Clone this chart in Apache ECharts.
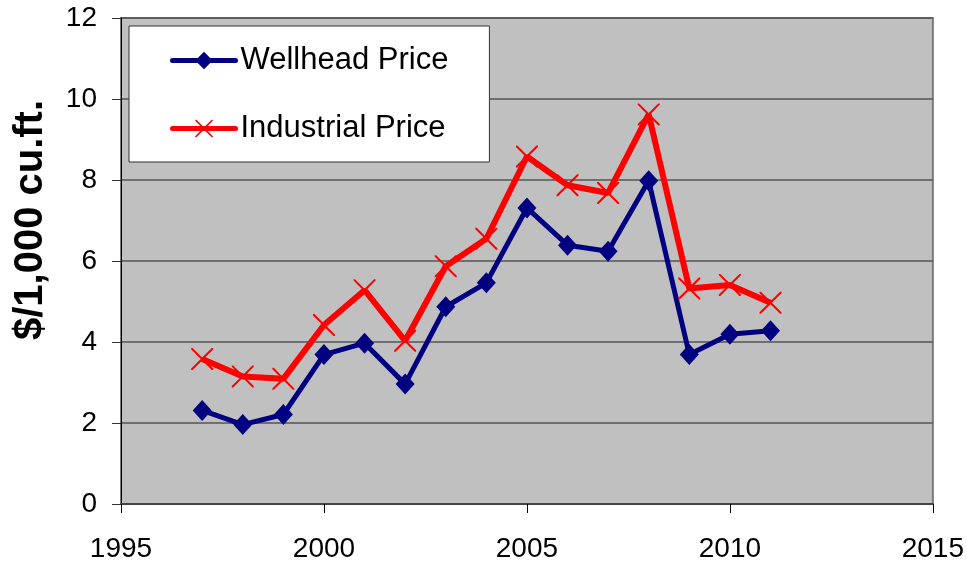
<!DOCTYPE html>
<html>
<head>
<meta charset="utf-8">
<script src="https://cdn.jsdelivr.net/npm/echarts@6/dist/echarts.min.js"></script>
<style>
html,body{margin:0;padding:0;background:#fff;}
#chart{width:967px;height:563px;}
</style>
</head>
<body>
<div id="chart"></div>
<script>
// values
var years = [1997, 1998, 1999, 2000, 2001, 2002, 2003, 2004, 2005, 2006, 2007, 2008, 2009, 2010, 2011];
var wellhead = [2.31, 1.96, 2.21, 3.69, 3.97, 2.96, 4.87, 5.46, 7.31, 6.39, 6.24, 7.98, 3.69, 4.19, 4.28];
var industrial = [3.58, 3.15, 3.09, 4.42, 5.28, 4.03, 5.87, 6.55, 8.58, 7.87, 7.68, 9.62, 5.32, 5.41, 4.97];
var seriesNames = ['Wellhead Price', 'Industrial Price'];
var yTitle = '$/1,000 cu.ft.';

var FONT = '"Liberation Sans", Arial, sans-serif';
// thin X cross as a filled outline
var crossPath = 'path://M0,0L1.3,0L10,8.7L18.7,0L20,0L20,1.3L11.3,10L20,18.7L20,20L18.7,20L10,11.3L1.3,20L0,20L0,18.7L8.7,10L0,1.3Z';

function pairs(xs, ys){
	var out = [];
	for (var i = 0; i < xs.length; i++) {
		out.push([xs[i], ys[i]]);
	}
	return out;
}

var chart = echarts.init(document.getElementById('chart'), null, {renderer: 'canvas'});
var option = {
	backgroundColor: '#ffffff',
	animation: false,
	textStyle: {fontFamily: FONT},
	grid: {
		left: 121, right: 32, top: 18, bottom: 57,
		show: true,
		backgroundColor: '#c0c0c0',
		borderColor: '#7a7a7a',
		borderWidth: 2
	},
	legend: {
		orient: 'vertical',
		left: 129, top: 26,
		padding: [19, 41, 18, 41],
		backgroundColor: '#ffffff',
		borderColor: '#333333',
		borderWidth: 1,
		itemWidth: 63,
		itemHeight: 22,
		itemGap: 37,
		lineStyle: {width: 5, cap: 'round'},
		textStyle: {fontSize: 31, color: '#000', fontFamily: FONT, lineHeight: 30},
		data: seriesNames
	},
	xAxis: {
		type: 'value',
		min: 1995, max: 2015, interval: 5,
		axisLine: {show: true, onZero: false, lineStyle: {color: '#444', width: 2}},
		axisTick: {show: true, inside: false, length: 9, lineStyle: {color: '#000', width: 1}},
		axisLabel: {fontSize: 28, color: '#000', margin: 31, fontFamily: FONT,
			formatter: function(v){ return String(v); }},
		splitLine: {show: false}
	},
	yAxis: {
		type: 'value',
		min: 0, max: 12, interval: 2,
		axisLine: {show: true, onZero: false, lineStyle: {color: '#000', width: 1}},
		axisTick: {show: true, inside: false, length: 9, lineStyle: {color: '#333', width: 1}},
		axisLabel: {fontSize: 28, color: '#000', margin: 24, fontFamily: FONT},
		splitLine: {show: true, lineStyle: {color: '#555555', width: 1.5}}
	},
	graphic: [{
		type: 'text',
		x: 31, y: 220,
		rotation: Math.PI / 2,
		style: {
			text: yTitle,
			font: 'bold 40px ' + FONT,
			fill: '#000',
			align: 'center',
			verticalAlign: 'middle'
		}
	}],
	series: [
		{
			name: seriesNames[0],
			type: 'line',
			data: pairs(years, wellhead),
			symbol: 'diamond',
			symbolSize: [19, 21],
			lineStyle: {color: '#000080', width: 5},
			itemStyle: {color: '#000080'},
			z: 2
		},
		{
			name: seriesNames[1],
			type: 'line',
			data: pairs(years, industrial),
			symbol: crossPath,
			symbolSize: 22,
			lineStyle: {color: '#ff0000', width: 6},
			itemStyle: {color: '#ff0000'},
			z: 3
		}
	]
};
chart.setOption(option);
</script>
</body>
</html>
